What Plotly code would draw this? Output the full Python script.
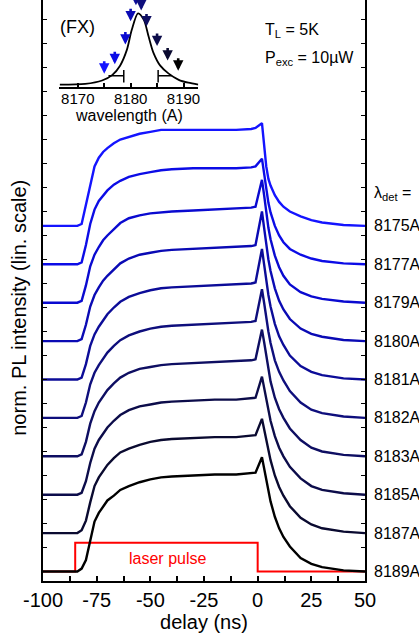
import plotly.graph_objects as go

# ---------------- data ----------------
det_labels = ["8175A", "8177A", "8179A", "8180A", "8181A",
              "8182A", "8183A", "8185A", "8187A", "8189A"]
det_wl = [8175, 8177, 8179, 8180, 8181, 8182, 8183, 8185, 8187, 8189]

# delay grid (ns): rise / plateau part and peak / decay part
t_rise = [-100, -84, -82, -80, -78, -76, -74, -72, -70, -67, -64, -60,
          -55, -50, -45, -40, -30, -20, -10, -3, -1]
t_decay = [2, 3, 4, 5, 6, 8, 10, 12, 15, 20, 25, 30, 40, 50]

rise_8175 = [0, 0, 0.02, 0.22, 0.45, 0.62, 0.71, 0.77, 0.81, 0.86, 0.90, 0.93, 0.96, 0.98, 1.00, 1.00, 1.00, 1.00, 1.00, 1.01, 1.02]
rise_8177 = [0, 0, 0.02, 0.20, 0.42, 0.57, 0.66, 0.72, 0.77, 0.83, 0.87, 0.91, 0.94, 0.96, 0.98, 0.99, 1.00, 1.00, 1.00, 1.01, 1.02]
rise_8179 = [0, 0, 0.02, 0.18, 0.38, 0.50, 0.58, 0.65, 0.70, 0.77, 0.83, 0.88, 0.91, 0.93, 0.94, 0.95, 0.96, 0.97, 0.98, 0.99, 1.00]
rise_8180 = [0, 0, 0.02, 0.17, 0.36, 0.48, 0.56, 0.63, 0.68, 0.75, 0.81, 0.86, 0.90, 0.92, 0.94, 0.95, 0.96, 0.97, 0.98, 0.99, 1.00]
rise_8181 = [0, 0, 0.02, 0.16, 0.35, 0.47, 0.55, 0.62, 0.68, 0.75, 0.81, 0.86, 0.90, 0.93, 0.95, 0.96, 0.97, 0.98, 0.99, 1.00, 1.01]
rise_8182 = [0, 0, 0.02, 0.16, 0.35, 0.47, 0.55, 0.62, 0.68, 0.75, 0.81, 0.86, 0.90, 0.93, 0.95, 0.96, 0.97, 0.98, 0.99, 1.00, 1.01]
rise_8183 = [0, 0, 0.02, 0.15, 0.34, 0.47, 0.56, 0.63, 0.69, 0.76, 0.82, 0.87, 0.91, 0.93, 0.95, 0.96, 0.97, 0.98, 0.99, 1.00, 1.01]
rise_8185 = [0, 0, 0.02, 0.14, 0.33, 0.48, 0.57, 0.64, 0.70, 0.77, 0.83, 0.88, 0.92, 0.94, 0.96, 0.97, 0.98, 0.99, 0.99, 1.00, 1.01]
rise_8187 = [0, 0, 0.03, 0.13, 0.32, 0.49, 0.58, 0.65, 0.71, 0.78, 0.84, 0.88, 0.92, 0.95, 0.97, 0.98, 0.99, 1.00, 1.00, 1.01, 1.02]
rise_8189 = [0, 0, 0.03, 0.12, 0.32, 0.52, 0.61, 0.68, 0.74, 0.79, 0.85, 0.89, 0.93, 0.96, 0.98, 0.99, 1.00, 1.01, 1.01, 1.02, 1.03]

decay_8175 = [1.07, 0.85, 0.62, 0.49, 0.42, 0.32, 0.25, 0.20, 0.15, 0.10, 0.06, 0.035, 0.01, 0.0]
decay_8177 = [1.10, 0.95, 0.78, 0.64, 0.54, 0.40, 0.30, 0.23, 0.16, 0.10, 0.06, 0.035, 0.01, 0.0]
decay_8179 = [1.28, 1.12, 0.93, 0.78, 0.66, 0.49, 0.37, 0.28, 0.19, 0.11, 0.065, 0.04, 0.012, 0.0]
decay_8180 = [1.35, 1.18, 1.00, 0.85, 0.73, 0.55, 0.42, 0.33, 0.23, 0.13, 0.075, 0.045, 0.012, 0.0]
decay_8181 = [1.36, 1.20, 1.03, 0.88, 0.76, 0.58, 0.45, 0.36, 0.25, 0.14, 0.08, 0.045, 0.012, 0.0]
decay_8182 = [1.34, 1.20, 1.04, 0.90, 0.78, 0.60, 0.48, 0.39, 0.28, 0.16, 0.085, 0.05, 0.015, 0.0]
decay_8183 = [1.32, 1.19, 1.04, 0.90, 0.78, 0.61, 0.49, 0.40, 0.29, 0.17, 0.09, 0.05, 0.015, 0.0]
decay_8185 = [1.23, 1.12, 0.99, 0.87, 0.77, 0.61, 0.49, 0.40, 0.29, 0.17, 0.09, 0.05, 0.015, 0.0]
decay_8187 = [1.19, 1.09, 0.97, 0.86, 0.76, 0.60, 0.48, 0.39, 0.28, 0.16, 0.09, 0.05, 0.015, 0.0]
decay_8189 = [1.19, 1.08, 0.95, 0.83, 0.73, 0.57, 0.45, 0.36, 0.26, 0.14, 0.08, 0.045, 0.012, 0.0]

rises = [rise_8175, rise_8177, rise_8179, rise_8180, rise_8181,
         rise_8182, rise_8183, rise_8185, rise_8187, rise_8189]
decays = [decay_8175, decay_8177, decay_8179, decay_8180, decay_8181,
          decay_8182, decay_8183, decay_8185, decay_8187, decay_8189]

# x tick labels
x_ticks = [-100, -75, -50, -25, 0, 25, 50]
x_ticklabels = ["-100", "-75", "-50", "-25", "0", "25", "50"]

# laser pulse
laser_t = [-100, -85, -85, 0, 0, 50]
laser_level = [0.0, 0.0, 0.3, 0.3, 0.0, 0.0]

# inset: FX emission spectrum
spec_wl = [8166.6, 8171.4, 8174.6, 8176.5, 8178.0, 8179.3, 8180.2, 8181.4,
           8182.5, 8183.4, 8184.3, 8185.6, 8187.2, 8189.1, 8190.9, 8192.8]
spec_int = [0.02, 0.03, 0.076, 0.15, 0.28, 0.50, 0.77, 1.00,
            0.91, 0.68, 0.46, 0.28, 0.17, 0.085, 0.045, 0.02]
# arrow tips above spectrum (intensity at detection wavelengths)
arrow_int = [0.17, 0.30, 0.57, 0.89, 1.11, 1.04, 0.82, 0.55, 0.35, 0.21]
# half-width brackets
bracket_left_wl = [8175.8, 8178.7]
bracket_right_wl = [8185.2, 8187.8]
bracket_level = 0.14
bracket_cap = [0.05, 0.22]

colors = ['#1414ff', '#0c0ce6', '#0a0ad0', '#0a0ab4', '#0c0c98',
          '#0e0e7c', '#0e0e62', '#0c0c4a', '#0a0a30', '#000000']

offset_step = 0.4
n = len(det_labels)

fig = go.Figure()

# laser pulse
fig.add_trace(go.Scatter(x=laser_t, y=laser_level, mode='lines',
                         line=dict(color='#ff0000', width=2), showlegend=False))

for i in range(n):
    off = offset_step * (n - 1 - i)
    t = t_rise + t_decay
    v = [val + off for val in rises[i] + decays[i]]
    fig.add_trace(go.Scatter(x=t, y=v, mode='lines',
                             line=dict(color=colors[i], width=2.4),
                             showlegend=False))

# inset spectrum
fig.add_trace(go.Scatter(x=spec_wl, y=spec_int, mode='lines', xaxis='x2', yaxis='y2',
                         line=dict(color='black', width=1.8, shape='spline', smoothing=0.8),
                         showlegend=False))
# brackets
fig.add_trace(go.Scatter(x=bracket_left_wl + [None] + [bracket_left_wl[1], bracket_left_wl[1]],
                         y=[bracket_level, bracket_level, None] + bracket_cap,
                         mode='lines', xaxis='x2', yaxis='y2',
                         line=dict(color='black', width=1.5), showlegend=False))
fig.add_trace(go.Scatter(x=bracket_right_wl + [None] + [bracket_right_wl[0], bracket_right_wl[0]],
                         y=[bracket_level, bracket_level, None] + bracket_cap,
                         mode='lines', xaxis='x2', yaxis='y2',
                         line=dict(color='black', width=1.5), showlegend=False))

annotations = []
# arrows in inset
for i in range(n):
    annotations.append(dict(x=det_wl[i], y=arrow_int[i], xref='x2', yref='y2',
                            text='', showarrow=True, ax=0, ay=-14,
                            arrowhead=2, arrowsize=0.8, arrowwidth=2.6,
                            arrowcolor=colors[i]))

# right labels
for i in range(n):
    off = offset_step * (n - 1 - i)
    annotations.append(dict(x=1.0205, y=off, xref='paper', yref='y',
                            text=det_labels[i], showarrow=False,
                            xanchor='left', yanchor='middle',
                            font=dict(size=16, color='black')))
annotations.append(dict(x=1.0205, y=(571.5 - 193) / 96.0, xref='paper', yref='y',
                        text='λ<sub>det</sub> =', showarrow=False,
                        xanchor='left', yanchor='middle',
                        font=dict(size=16, color='black')))

annotations.append(dict(x=-41.8, y=0.14, xref='x', yref='y', text='laser pulse',
                        showarrow=False, font=dict(size=16, color='#ff0000')))
annotations.append(dict(x=0.046, y=0.953, xref='paper', yref='paper', text='(FX)',
                        showarrow=False, xanchor='left', yanchor='middle',
                        font=dict(size=18, color='black')))
annotations.append(dict(x=0.683, y=0.948, xref='paper', yref='paper',
                        text='T<sub>L</sub> = 5K', showarrow=False,
                        xanchor='left', yanchor='middle',
                        font=dict(size=16, color='black')))
annotations.append(dict(x=0.683, y=0.899, xref='paper', yref='paper',
                        text='P<sub>exc</sub> = 10µW', showarrow=False,
                        xanchor='left', yanchor='middle',
                        font=dict(size=16, color='black')))
annotations.append(dict(x=-0.075, y=0.47, xref='paper', yref='paper',
                        text='norm. PL intensity (lin. scale)', showarrow=False,
                        textangle=-90, xanchor='center', yanchor='middle',
                        font=dict(size=20, color='black')))
annotations.append(dict(x=8179.6, y=(581 - 116) / 581.0, xref='x2', yref='paper',
                        text='wavelength (A)', showarrow=False,
                        xanchor='center', yanchor='middle',
                        font=dict(size=16, color='black')))

fig.update_layout(
    width=419, height=638,
    margin=dict(l=43, r=54, t=0, b=57),
    paper_bgcolor='white', plot_bgcolor='white',
    font=dict(family='Liberation Sans, Arial, sans-serif', color='black'),
    xaxis=dict(range=[-100, 50], tickvals=x_ticks, ticktext=x_ticklabels,
               ticks='inside', ticklen=5, tickwidth=1.5, tickcolor='black',
               minor=dict(dtick=12.5, ticks='inside', ticklen=5, tickwidth=1.5, tickcolor='black'),
               showline=True, linecolor='black', linewidth=2, mirror=False,
               showgrid=False, zeroline=False,
               tickfont=dict(size=20),
               title=dict(text='delay (ns)', font=dict(size=20), standoff=2)),
    yaxis=dict(range=[-9.5 / 96.0, 571.5 / 96.0], dtick=0.25, tick0=0,
               ticks='inside', ticklen=4, tickwidth=1.2, tickcolor='black',
               showticklabels=False, showline=True, linecolor='black', linewidth=2,
               mirror='ticks', showgrid=False, zeroline=False),
    xaxis2=dict(domain=[0.0506, 0.4823], range=[8166.5, 8192.8], anchor='y2',
                tickvals=[8170, 8180, 8190], ticks='inside', ticklen=4,
                tickwidth=1.5, tickcolor='black', ticklabelstandoff=-3,
                minor=dict(dtick=5, ticks='inside', ticklen=4, tickwidth=1.5, tickcolor='black'),
                showline=True, linecolor='black', linewidth=1.8,
                showgrid=False, zeroline=False, tickfont=dict(size=15)),
    yaxis2=dict(domain=[0.8497, 1.0], range=[-0.018, 1.183], anchor='x2',
                visible=False, showgrid=False, zeroline=False),
    annotations=annotations,
)

fig.write_html("out.html", config={'displayModeBar': False},
               post_script="document.body.style.margin='0';document.body.style.padding='0';")
